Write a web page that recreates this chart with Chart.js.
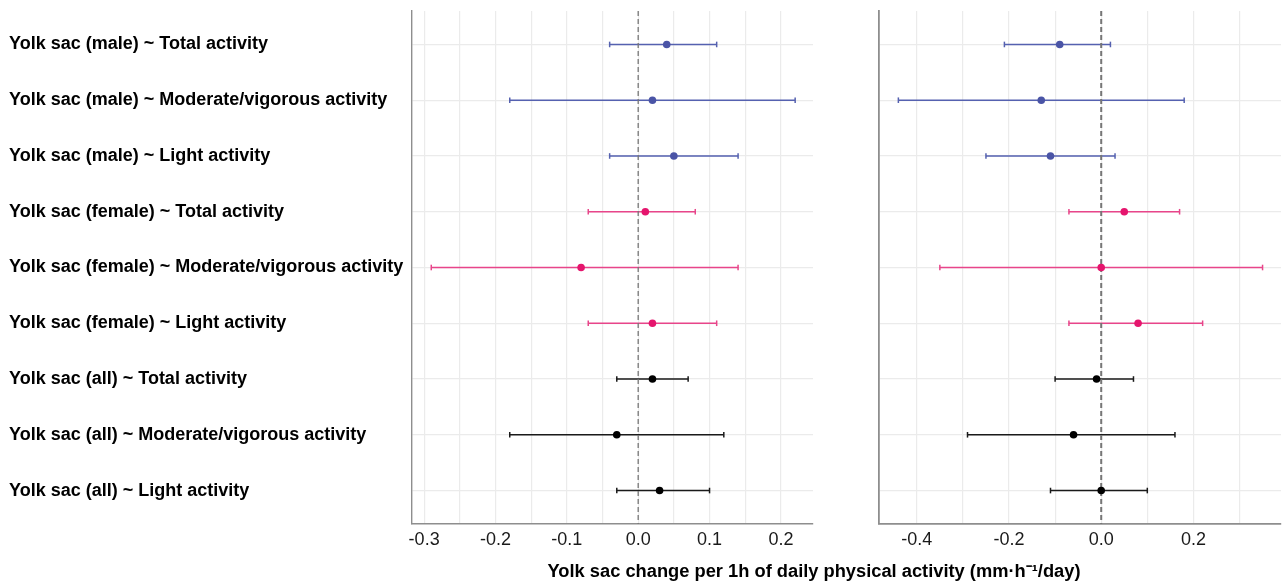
<!DOCTYPE html>
<html>
<head>
<meta charset="utf-8">
<script src="https://cdn.jsdelivr.net/npm/chart.js@4"></script>
<style>
  body { margin: 0; background: #fff; width: 1288px; height: 582px; position: relative; overflow: hidden; font-family: "Liberation Sans", Arial, sans-serif; }
  #left { position: absolute; left: 0; top: 0; }
  #right { position: absolute; left: 870px; top: 0; }
  #xtitle { position: absolute; top: 557px; left: 464px; width: 700px; text-align: center; font-weight: bold; font-size: 18.3px; color: #000; }
</style>
</head>
<body>
<canvas id="left" width="820" height="582"></canvas>
<canvas id="right" width="418" height="582"></canvas>
<div id="xtitle">Yolk sac change per 1h of daily physical activity (mm·h⁻¹/day)</div>
<script>
// Row labels, top to bottom
const categories = [
    'Yolk sac (male) ~ Total activity',
    'Yolk sac (male) ~ Moderate/vigorous activity',
    'Yolk sac (male) ~ Light activity',
    'Yolk sac (female) ~ Total activity',
    'Yolk sac (female) ~ Moderate/vigorous activity',
    'Yolk sac (female) ~ Light activity',
    'Yolk sac (all) ~ Total activity',
    'Yolk sac (all) ~ Moderate/vigorous activity',
    'Yolk sac (all) ~ Light activity'
];
const groups = ['male', 'male', 'male', 'female', 'female', 'female', 'all', 'all', 'all'];

// Left panel estimates and intervals
const estLeft = [0.04, 0.02, 0.05, 0.01, -0.08, 0.02, 0.02, -0.03, 0.03];
const lowLeft = [-0.04, -0.18, -0.04, -0.07, -0.29, -0.07, -0.03, -0.18, -0.03];
const highLeft = [0.11, 0.22, 0.14, 0.08, 0.14, 0.11, 0.07, 0.12, 0.10];

// Right panel estimates and intervals
const estRight = [-0.09, -0.13, -0.11, 0.05, 0.00, 0.08, -0.01, -0.06, 0.00];
const lowRight = [-0.21, -0.44, -0.25, -0.07, -0.35, -0.07, -0.10, -0.29, -0.11];
const highRight = [0.02, 0.18, 0.03, 0.17, 0.35, 0.22, 0.07, 0.16, 0.10];

// Tick labels (labelled) and grid positions
const ticksLeft = [-0.3, -0.2, -0.1, 0.0, 0.1, 0.2];
const gridLeft = [-0.3, -0.25, -0.2, -0.15, -0.1, -0.05, 0.0, 0.05, 0.1, 0.15, 0.2];
const ticksRight = [-0.4, -0.2, 0.0, 0.2];
const gridRight = [-0.4, -0.3, -0.2, -0.1, 0.0, 0.1, 0.2, 0.3];

const pointColors = { male: '#4a54a6', female: '#e5156d', all: '#000000' };
const barColors = { male: '#5561b0', female: '#e8458a', all: '#1a1a1a' };

function buildPanel(canvasId, est, low, high, xMin, xMax, grid, labelled, showY, dashWidth, axisWidth) {
    const ctx = document.getElementById(canvasId).getContext('2d');

    const datasets = [];

    // Point estimates (drawn on top)
    datasets.push({
        data: est.map((v, i) => ({ x: v, y: i })),
        pointRadius: 3.8,
        pointBorderWidth: 0,
        pointBackgroundColor: groups.map(g => pointColors[g]),
        showLine: false
    });

    // Dashed zero reference line
    datasets.push({
        data: [{ x: 0, y: -0.6 }, { x: 0, y: 8.6 }],
        showLine: true,
        borderColor: '#767676',
        borderWidth: dashWidth,
        borderDash: [5, 3],
        pointRadius: 0
    });

    // Error bars, one per row
    categories.forEach((c, i) => {
        const col = barColors[groups[i]];
        datasets.push({
            data: [{ x: low[i], y: i }, { x: high[i], y: i }],
            showLine: true,
            borderColor: col,
            borderWidth: 1.5,
            pointStyle: 'line',
            rotation: 90,
            pointRadius: 2.8,
            pointBorderColor: col,
            pointBorderWidth: 1.5
        });
    });

    return new Chart(ctx, {
        type: 'scatter',
        data: { datasets: datasets },
        options: {
            responsive: false,
            animation: false,
            events: [],
            layout: { padding: { left: 9, top: 11, right: 7, bottom: 0 } },
            plugins: { legend: { display: false }, tooltip: { enabled: false } },
            scales: {
                x: {
                    type: 'linear',
                    min: xMin,
                    max: xMax,
                    afterBuildTicks: (scale) => { scale.ticks = grid.map(v => ({ value: v })); },
                    afterFit: (scale) => {
                        scale.height = 58;
                        scale.paddingLeft = 0;
                        scale.paddingRight = 0;
                    },
                    grid: { color: '#ebebeb', lineWidth: 1.2, drawTicks: false },
                    border: { display: true, color: '#8e8e8e', width: axisWidth },
                    ticks: {
                        autoSkip: false,
                        maxRotation: 0,
                        padding: 5,
                        color: '#1a1a1a',
                        font: { family: '"Liberation Sans", Arial, sans-serif', size: 18 },
                        callback: (value) => {
                            const hit = labelled.some(t => Math.abs(t - value) < 1e-6);
                            return hit ? Number(value).toFixed(1) : '';
                        }
                    }
                },
                y: {
                    type: 'linear',
                    reverse: true,
                    min: -0.6,
                    max: 8.6,
                    afterBuildTicks: (scale) => { scale.ticks = categories.map((c, i) => ({ value: i })); },
                    afterFit: (scale) => {
                        scale.width = showY ? 403 : 0;
                        scale.paddingTop = 0;
                        scale.paddingBottom = 0;
                    },
                    grid: { color: '#ebebeb', lineWidth: 1.2, drawTicks: false },
                    border: { display: true, color: '#8e8e8e', width: axisWidth },
                    ticks: {
                        display: showY,
                        autoSkip: false,
                        crossAlign: 'far',
                        color: '#000',
                        font: { family: '"Liberation Sans", Arial, sans-serif', size: 18, weight: 'bold' },
                        callback: (value) => categories[Math.round(value)]
                    }
                }
            }
        }
    });
}

buildPanel('left', estLeft, lowLeft, highLeft, -0.317, 0.245, gridLeft, ticksLeft, true, 1.3, 1.4);
buildPanel('right', estRight, lowRight, highRight, -0.482, 0.39, gridRight, ticksRight, false, 2, 1.8);
</script>
</body>
</html>
